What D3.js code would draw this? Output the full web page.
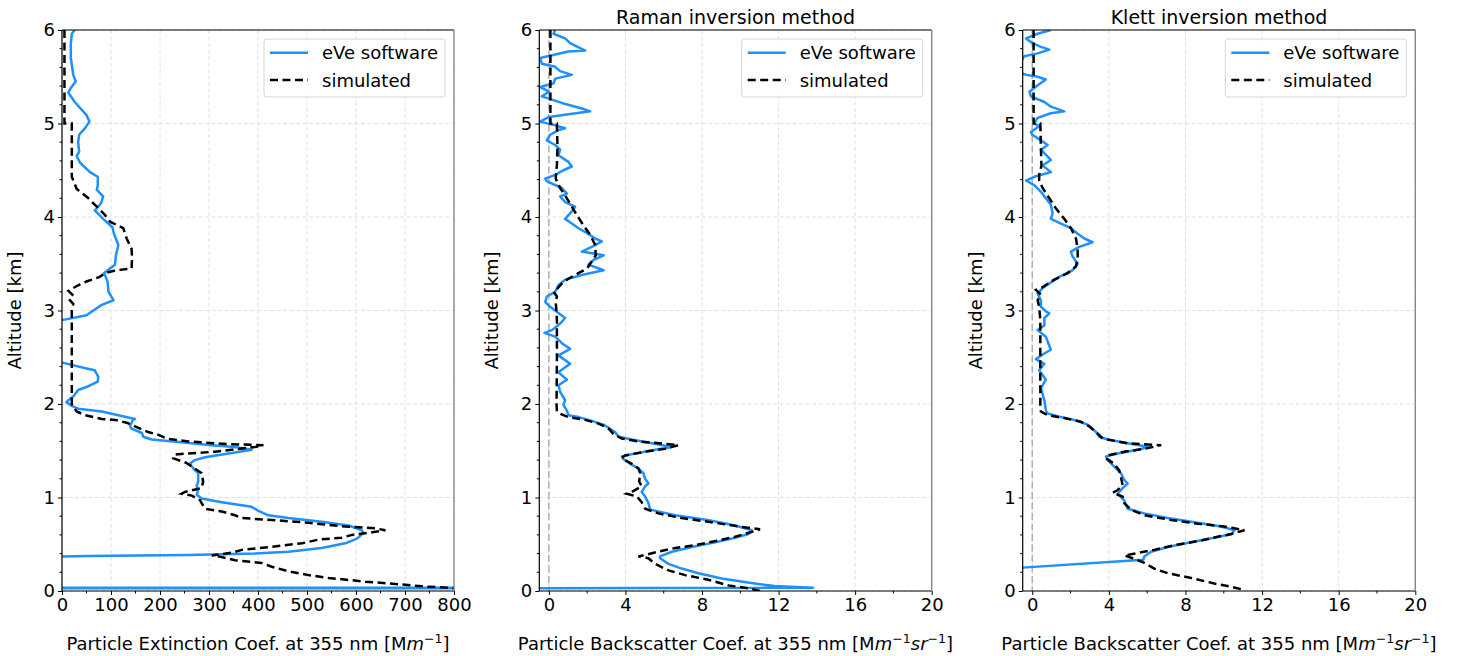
<!DOCTYPE html>
<html>
<head>
<meta charset="utf-8">
<script src="https://cdn.jsdelivr.net/npm/d3@7"></script>
<style>
body { margin: 0; background: #fff; }
svg { font-family: "DejaVu Sans", sans-serif; }
</style>
</head>
<body>
<svg id="chart" width="1458" height="656"></svg>
<script>
// ticks
var altTicks = [0, 1, 2, 3, 4, 5, 6];
var extTicks = [0, 100, 200, 300, 400, 500, 600, 700, 800];
var bscTicks = [0, 4, 8, 12, 16, 20];

var titles = ["", "Raman inversion method", "Klett inversion method"];
var legendLabels = ["eVe software", "simulated"];

// profiles: [altitude km, value]
var extEve = [[6.00,26],[5.96,20],[5.85,18],[5.70,18],[5.52,23],[5.45,28],[5.38,18],[5.33,13],[5.23,26],[5.09,50],[5.02,56],[4.95,47],[4.88,35],[4.80,33],[4.70,35],[4.65,30],[4.58,37],[4.48,57],[4.43,73],[4.34,73],[4.29,71],[4.22,84],[4.15,80],[4.07,67],[3.98,84],[3.89,103],[3.82,106],[3.70,115],[3.59,110],[3.49,108],[3.40,86],[3.31,93],[3.20,95],[3.11,105],[3.06,81],[3.01,67],[2.95,50],[2.90,3],[2.88,-60],[2.46,-60],[2.44,3],[2.38,50],[2.36,67],[2.29,74],[2.24,73],[2.19,54],[2.15,33],[2.08,23],[2.04,13],[2.02,9],[1.98,20],[1.95,33],[1.92,81],[1.84,149],[1.83,145],[1.77,139],[1.74,141],[1.69,163],[1.65,166],[1.62,183],[1.59,244],[1.56,305],[1.54,353],[1.51,387],[1.47,340],[1.43,292],[1.40,271],[1.36,261],[1.31,268],[1.26,278],[1.17,278],[1.13,275],[1.06,277],[1.03,275],[0.99,285],[0.95,326],[0.90,387],[0.86,400],[0.81,421],[0.78,462],[0.74,530],[0.70,585],[0.65,612],[0.62,615],[0.56,602],[0.51,578],[0.46,530],[0.42,462],[0.40,394],[0.385,258],[0.375,54],[0.37,0],[0.36,-100],[0.036,-100],[0.032,1500],[0.028,-100]];
var extSim = [[6.0,5],[5.0,5],[5.0,20],[4.43,20],[4.30,30],[4.20,54],[4.11,71],[4.02,88],[3.95,98],[3.88,125],[3.77,132],[3.66,142],[3.56,143],[3.45,142],[3.43,110],[3.40,88],[3.36,77],[3.31,50],[3.27,33],[3.21,13],[3.16,23],[3.11,16],[3.07,23],[3.0,20],[2.0,20],[1.97,23],[1.92,30],[1.88,47],[1.84,81],[1.83,108],[1.80,132],[1.76,149],[1.70,176],[1.67,197],[1.63,214],[1.60,258],[1.57,339],[1.56,411],[1.54,394],[1.49,312],[1.46,230],[1.42,227],[1.41,232],[1.37,254],[1.33,265],[1.26,285],[1.17,288],[1.10,285],[1.06,251],[1.04,244],[1.02,265],[0.97,282],[0.94,285],[0.88,292],[0.85,326],[0.81,353],[0.78,367],[0.76,428],[0.73,503],[0.69,578],[0.67,639],[0.65,660],[0.63,636],[0.60,592],[0.57,571],[0.55,524],[0.51,490],[0.47,422],[0.44,367],[0.41,347],[0.38,306],[0.37,320],[0.33,353],[0.30,407],[0.26,428],[0.21,462],[0.17,503],[0.14,544],[0.10,619],[0.07,694],[0.05,735],[0.03,800],[0.0,830]];

var ramanEve = [[6.00,0.33],[5.96,0.24],[5.91,0.85],[5.86,1.11],[5.78,1.9],[5.77,1.02],[5.73,0.16],[5.70,-0.45],[5.64,-0.37],[5.61,0.3],[5.56,0.59],[5.52,1.2],[5.48,0.33],[5.43,0.25],[5.39,-0.45],[5.34,0.0],[5.29,-0.37],[5.22,0.68],[5.16,1.72],[5.13,2.16],[5.11,1.4],[5.07,0.0],[5.02,-0.45],[4.98,0.33],[4.95,0.85],[4.93,0.5],[4.88,0.07],[4.82,-0.11],[4.77,0.33],[4.72,0.59],[4.66,0.5],[4.59,1.02],[4.54,1.2],[4.50,0.76],[4.45,0.33],[4.41,-0.19],[4.38,-0.1],[4.31,0.68],[4.25,0.94],[4.22,0.59],[4.16,0.85],[4.11,1.37],[4.06,1.2],[3.98,0.85],[3.93,1.2],[3.88,1.55],[3.83,1.98],[3.77,2.42],[3.74,2.77],[3.68,2.24],[3.63,1.72],[3.59,2.86],[3.54,2.33],[3.49,2.07],[3.43,2.86],[3.38,1.72],[3.33,0.85],[3.27,0.5],[3.20,0.33],[3.15,-0.11],[3.09,-0.19],[3.04,0.07],[3.00,0.33],[2.92,0.85],[2.86,0.59],[2.79,0.16],[2.76,-0.23],[2.72,0.33],[2.65,0.68],[2.59,1.11],[2.52,0.5],[2.43,1.11],[2.34,0.5],[2.26,0.94],[2.20,0.5],[2.13,0.59],[2.04,0.85],[1.99,0.76],[1.93,0.94],[1.88,1.02],[1.86,1.55],[1.83,2.07],[1.78,2.85],[1.70,3.46],[1.65,3.64],[1.62,4.33],[1.58,5.38],[1.54,6.42],[1.51,5.55],[1.47,4.51],[1.44,3.81],[1.41,3.9],[1.36,4.25],[1.31,4.68],[1.26,4.94],[1.20,5.03],[1.15,5.2],[1.12,5.03],[1.06,4.85],[1.01,5.03],[0.94,5.2],[0.87,5.29],[0.81,6.6],[0.76,8.3],[0.70,9.73],[0.65,10.6],[0.61,10.43],[0.57,9.73],[0.52,8.68],[0.47,7.47],[0.42,6.42],[0.37,5.81],[0.35,5.81],[0.29,6.25],[0.24,6.94],[0.19,7.81],[0.134,9.03],[0.09,10.4],[0.053,11.8],[0.035,13.8],[0.03,-2]];
var ramanSim = [[6.0,0.08],[5.0,0.08],[5.0,0.42],[4.75,0.45],[4.55,0.42],[4.48,0.38],[4.41,0.36],[4.31,0.59],[4.20,0.94],[4.11,1.2],[4.02,1.46],[3.91,1.81],[3.81,2.16],[3.70,2.42],[3.59,2.45],[3.50,2.16],[3.45,2.0],[3.40,1.55],[3.34,1.02],[3.29,0.68],[3.23,0.42],[3.20,0.25],[3.15,0.42],[3.09,0.35],[3.04,0.38],[2.9,0.42],[2.5,0.42],[2.0,0.40],[1.92,0.42],[1.90,0.54],[1.86,1.02],[1.83,1.9],[1.79,2.59],[1.74,3.11],[1.68,3.37],[1.63,3.81],[1.60,4.68],[1.56,6.77],[1.52,6.07],[1.49,5.03],[1.45,3.98],[1.42,3.81],[1.36,4.33],[1.31,4.68],[1.26,4.77],[1.17,4.72],[1.12,4.85],[1.06,4.33],[1.04,4.07],[1.01,4.6],[0.95,4.85],[0.88,5.03],[0.83,5.72],[0.78,6.94],[0.73,8.68],[0.69,9.9],[0.66,11.03],[0.62,10.4],[0.58,9.73],[0.54,8.86],[0.49,7.64],[0.46,6.6],[0.42,5.72],[0.37,4.68],[0.35,5.2],[0.29,5.55],[0.22,6.25],[0.17,7.12],[0.12,8.33],[0.06,9.38],[0.03,10.4],[0.0,11.03]];

var klettEve = [[6.00,0.97],[5.96,0.28],[5.91,-0.33],[5.86,0.0],[5.82,0.45],[5.79,0.89],[5.75,0.28],[5.72,-0.42],[5.66,-0.6],[5.54,-0.6],[5.52,-0.3],[5.50,0.28],[5.47,0.71],[5.41,0.28],[5.34,-0.15],[5.29,-0.07],[5.23,0.63],[5.18,0.97],[5.13,1.67],[5.11,0.97],[5.06,0.28],[5.00,0.1],[4.97,0.36],[4.91,-0.07],[4.88,0.0],[4.82,0.45],[4.77,0.8],[4.72,0.45],[4.61,0.97],[4.55,0.54],[4.48,0.97],[4.43,0.1],[4.39,-0.33],[4.34,0.1],[4.27,0.45],[4.20,0.71],[4.13,0.97],[4.04,1.06],[3.98,0.97],[3.93,1.5],[3.88,2.02],[3.82,2.37],[3.77,2.72],[3.73,3.15],[3.68,2.45],[3.63,2.02],[3.58,2.1],[3.50,2.37],[3.43,2.1],[3.36,1.41],[3.29,0.89],[3.24,0.54],[3.18,0.28],[3.11,0.45],[3.04,0.45],[2.99,0.71],[2.97,0.89],[2.92,0.63],[2.84,0.63],[2.79,0.28],[2.72,0.71],[2.58,0.97],[2.54,0.63],[2.48,0.19],[2.43,0.63],[2.36,0.36],[2.26,0.71],[2.17,0.45],[2.04,0.63],[1.93,0.71],[1.90,0.8],[1.86,1.5],[1.83,2.19],[1.78,2.89],[1.70,3.33],[1.65,3.5],[1.62,3.94],[1.58,4.98],[1.54,6.1],[1.51,5.5],[1.47,4.46],[1.44,3.85],[1.40,3.94],[1.33,4.28],[1.26,4.63],[1.19,4.8],[1.15,4.98],[1.10,4.72],[1.04,4.46],[0.97,4.8],[0.88,4.98],[0.83,5.85],[0.78,7.07],[0.73,8.64],[0.69,9.86],[0.65,10.56],[0.61,10.4],[0.57,9.51],[0.53,8.47],[0.47,7.07],[0.42,6.2],[0.37,5.85],[0.335,5.8],[0.25,-0.5],[0.24,-1],[0.0,-1]];
var klettSim = [[6.0,0.07],[5.0,0.07],[5.0,0.42],[4.75,0.45],[4.55,0.48],[4.45,0.36],[4.39,0.36],[4.31,0.54],[4.20,0.89],[4.09,1.24],[3.98,1.67],[3.88,2.02],[3.77,2.28],[3.66,2.37],[3.56,2.37],[3.47,2.28],[3.40,1.85],[3.33,1.15],[3.25,0.54],[3.22,0.19],[3.17,0.45],[3.11,0.28],[3.04,0.36],[2.9,0.42],[2.5,0.42],[1.95,0.42],[1.92,0.45],[1.88,0.8],[1.85,1.67],[1.81,2.54],[1.76,2.98],[1.70,3.33],[1.63,3.68],[1.58,4.98],[1.56,6.73],[1.52,5.85],[1.49,4.8],[1.45,3.94],[1.42,3.85],[1.36,4.28],[1.29,4.54],[1.22,4.63],[1.13,4.72],[1.08,4.46],[1.05,4.2],[1.01,4.72],[0.94,4.8],[0.87,5.15],[0.81,5.85],[0.76,7.25],[0.72,8.64],[0.69,10.03],[0.65,11.08],[0.61,10.4],[0.58,9.68],[0.54,8.82],[0.49,7.42],[0.44,6.37],[0.38,4.81],[0.35,5.24],[0.30,5.85],[0.24,6.37],[0.19,7.07],[0.14,8.29],[0.08,9.5],[0.05,10.3],[0.01,11.08]];

var svg = d3.select("#chart");
var plotTop = 30, plotBottom = 591;
var fs = 18;
var blue = "#1e90ff";
var lw = 2.5;

// label parts: [text, style]  n = normal, i = italic, s = superscript
var extLabel = [["Particle Extinction Coef. at 355 nm [M", "n"], ["m", "i"], ["\u22121", "s"], ["]", "n"]];
var bscLabel = [["Particle Backscatter Coef. at 355 nm [M", "n"], ["m", "i"], ["\u22121", "s"], ["sr", "i"], ["\u22121", "s"], ["]", "n"]];

var panels = [
    {left: 62, right: 454, dom: [0, 800], ticks: extTicks, minorStep: 50, eve: extEve, sim: extSim, title: titles[0], label: extLabel, zero: false},
    {left: 539.3, right: 931.7, dom: [-0.5, 20], ticks: bscTicks, minorStep: 2, eve: ramanEve, sim: ramanSim, title: titles[1], label: bscLabel, zero: true},
    {left: 1022.7, right: 1415.3, dom: [-0.5, 20], ticks: bscTicks, minorStep: 2, eve: klettEve, sim: klettSim, title: titles[2], label: bscLabel, zero: true}
];

var y = d3.scaleLinear().domain([0, 6]).range([plotBottom, plotTop]);

panels.forEach(function(p, i) {
    var x = d3.scaleLinear().domain(p.dom).range([p.left, p.right]);
    var g = svg.append("g");

    // grid
    g.selectAll(".vgrid").data(p.ticks).enter().append("line")
        .attr("x1", function(d) { return x(d); }).attr("x2", function(d) { return x(d); })
        .attr("y1", plotTop).attr("y2", plotBottom)
        .attr("stroke", "#e0e0e0").attr("stroke-width", 1).attr("stroke-dasharray", "4,2.5");
    g.selectAll(".hgrid").data(altTicks).enter().append("line")
        .attr("x1", p.left).attr("x2", p.right)
        .attr("y1", function(d) { return y(d); }).attr("y2", function(d) { return y(d); })
        .attr("stroke", "#e0e0e0").attr("stroke-width", 1).attr("stroke-dasharray", "4,2.5");

    if (p.zero) {
        g.append("line")
            .attr("x1", x(0)).attr("x2", x(0)).attr("y1", plotTop).attr("y2", plotBottom)
            .attr("stroke", "#b0b0b0").attr("stroke-width", 1.5).attr("stroke-dasharray", "7,3.5");
    }

    var clipId = "clip" + i;
    svg.append("clipPath").attr("id", clipId).append("rect")
        .attr("x", p.left).attr("y", plotTop)
        .attr("width", p.right - p.left).attr("height", plotBottom - plotTop);

    var line = d3.line()
        .x(function(d) { return x(d[1]); })
        .y(function(d) { return y(d[0]); });

    var lines = g.append("g").attr("clip-path", "url(#" + clipId + ")");
    lines.append("path").datum(p.eve)
        .attr("d", line).attr("fill", "none")
        .attr("stroke", blue).attr("stroke-width", lw).attr("stroke-linejoin", "round");
    lines.append("path").datum(p.sim)
        .attr("d", line).attr("fill", "none")
        .attr("stroke", "#000").attr("stroke-width", lw)
        .attr("stroke-dasharray", "8,4.5");

    // axes
    var xAxis = d3.axisBottom(x).tickValues(p.ticks).tickSize(4).tickPadding(3).tickFormat(d3.format("d"));
    var ax = g.append("g").attr("transform", "translate(0," + plotBottom + ")").call(xAxis);
    var minorX = d3.range(p.dom[0] < 0 ? 0 : p.dom[0], p.dom[1] + 0.001, p.minorStep)
        .filter(function(d) { return p.ticks.indexOf(d) < 0; });
    ax.selectAll(".minor").data(minorX).enter().append("line")
        .attr("x1", function(d) { return x(d); }).attr("x2", function(d) { return x(d); })
        .attr("y1", 0).attr("y2", 2.5).attr("stroke", "#000");

    var yAxis = d3.axisLeft(y).tickValues(altTicks).tickSize(4).tickPadding(3).tickFormat(d3.format("d"));
    var ay = g.append("g").attr("transform", "translate(" + p.left + ",0)").call(yAxis);
    var minorY = d3.range(0, 6.001, 0.2).filter(function(d) { return Math.abs(d - Math.round(d)) > 0.01; });
    ay.selectAll(".minor").data(minorY).enter().append("line")
        .attr("x1", 0).attr("x2", -2.5)
        .attr("y1", function(d) { return y(d); }).attr("y2", function(d) { return y(d); })
        .attr("stroke", "#000");

    [ax, ay].forEach(function(a) {
        a.select(".domain").remove();
        a.selectAll("text").attr("font-size", fs).attr("font-family", "DejaVu Sans").attr("fill", "#000");
        a.selectAll(".tick line").attr("stroke", "#000");
    });

    // spines
    g.append("line").attr("x1", p.left).attr("x2", p.right).attr("y1", plotTop).attr("y2", plotTop).attr("stroke", "#000").attr("stroke-width", 1.2);
    g.append("line").attr("x1", p.left).attr("x2", p.right).attr("y1", plotBottom).attr("y2", plotBottom).attr("stroke", "#000").attr("stroke-width", 1.2);
    g.append("line").attr("x1", p.left).attr("x2", p.left).attr("y1", plotTop).attr("y2", plotBottom).attr("stroke", "#000").attr("stroke-width", 1.2);
    g.append("line").attr("x1", p.right).attr("x2", p.right).attr("y1", plotTop).attr("y2", plotBottom).attr("stroke", "#888").attr("stroke-width", 1.4);

    // y label
    g.append("text")
        .attr("transform", "translate(" + (p.left - 41) + "," + ((plotTop + plotBottom) / 2) + ") rotate(-90)")
        .attr("text-anchor", "middle").attr("font-size", fs)
        .text("Altitude [km]");

    // x label
    var xl = g.append("text")
        .attr("x", (p.left + p.right) / 2).attr("y", 650)
        .attr("text-anchor", "middle").attr("font-size", fs);
    var raised = false;
    p.label.forEach(function(part) {
        var t = xl.append("tspan").text(part[0]);
        if (part[1] === "i") t.attr("font-style", "italic");
        if (part[1] === "s") {
            t.attr("font-size", 12.6).attr("dy", -7.5);
            raised = true;
        } else if (raised) {
            t.attr("dy", 7.5);
            raised = false;
        }
    });

    // title
    if (p.title) {
        g.append("text")
            .attr("x", (p.left + p.right) / 2).attr("y", 24)
            .attr("text-anchor", "middle").attr("font-size", 19)
            .text(p.title);
    }

    // legend
    var lx = p.right - 190, ly = 39;
    var leg = g.append("g").attr("transform", "translate(" + lx + "," + ly + ")");
    leg.append("rect").attr("width", 181).attr("height", 58).attr("rx", 3)
        .attr("fill", "#fff").attr("fill-opacity", 0.85)
        .attr("stroke", "#d5d5d5").attr("stroke-width", 1);
    legendLabels.forEach(function(lab, k) {
        var yy = 13.7 + k * 27.3;
        var l = leg.append("line").attr("x1", 6).attr("x2", 44).attr("y1", yy).attr("y2", yy)
            .attr("stroke-width", lw);
        if (k === 0) l.attr("stroke", blue);
        else l.attr("stroke", "#000").attr("stroke-dasharray", "8,4.5");
        leg.append("text").attr("x", 58).attr("y", yy + 6.5).attr("font-size", fs).text(lab);
    });
});
</script>
</body>
</html>
